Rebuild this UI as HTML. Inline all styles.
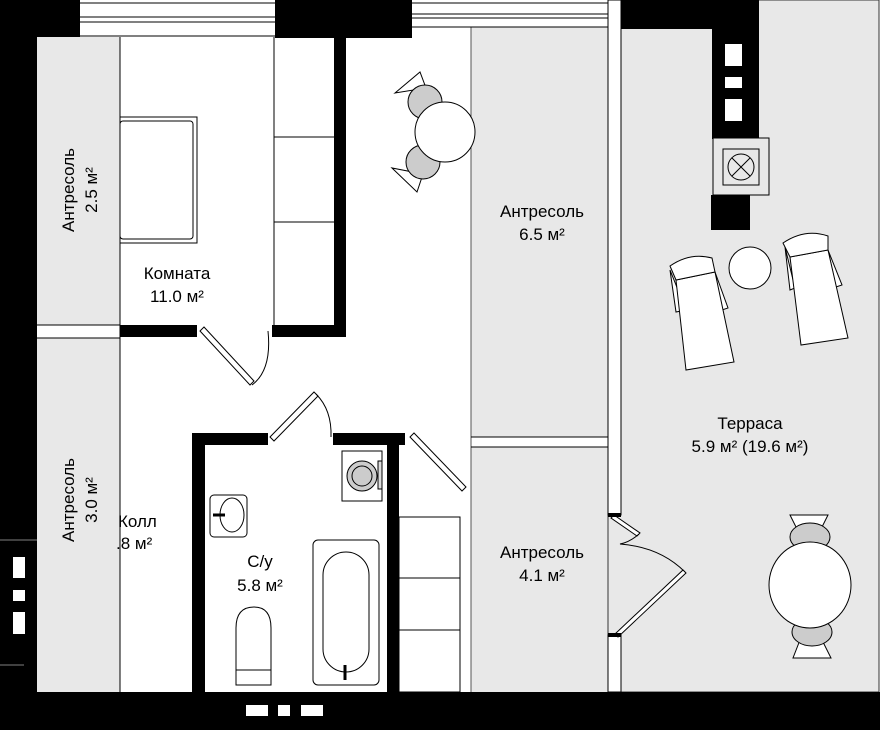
<!DOCTYPE html>
<html><head><meta charset="utf-8"><style>
body{margin:0;background:#fff}
svg{display:block}
text{font-family:"Liberation Sans",sans-serif;font-size:17px;fill:#000}
</style></head><body>
<svg width="880" height="730" viewBox="0 0 880 730" xmlns="http://www.w3.org/2000/svg">
<rect width="880" height="730" fill="#fff"/>
<rect x="37" y="37" width="83" height="288" fill="#e8e8e8"/>
<rect x="37" y="338" width="83" height="354" fill="#e8e8e8"/>
<rect x="471" y="27" width="137" height="410" fill="#e8e8e8"/>
<rect x="471" y="447" width="137" height="245" fill="#e8e8e8"/>
<rect x="608" y="0" width="271" height="692" fill="#e8e8e8" stroke="#333" stroke-width="1"/>
<line x1="120" y1="37" x2="120" y2="692" stroke="#000"/>
<line x1="471" y1="27" x2="471" y2="692" stroke="#555"/>
<line x1="37" y1="325" x2="120" y2="325" stroke="#000"/>
<line x1="37" y1="338" x2="120" y2="338" stroke="#000"/>
<line x1="471" y1="437" x2="608" y2="437" stroke="#000"/>
<line x1="471" y1="447" x2="608" y2="447" stroke="#000"/>
<g stroke="#000" fill="none">
<line x1="80" y1="3" x2="275" y2="3"/><line x1="80" y1="17" x2="275" y2="17"/><line x1="80" y1="22" x2="275" y2="22"/><line x1="80" y1="36" x2="275" y2="36"/>
<line x1="412" y1="3" x2="608" y2="3"/><line x1="412" y1="14" x2="608" y2="14"/><line x1="412" y1="18" x2="608" y2="18"/><line x1="412" y1="27" x2="608" y2="27"/>
</g>
<g fill="#000">
<rect x="0" y="0" width="80" height="37"/>
<rect x="0" y="0" width="37" height="692"/>
<rect x="275" y="0" width="137" height="38"/>
<rect x="334" y="37" width="12" height="300"/>
<rect x="120" y="325" width="77" height="12"/>
<rect x="272" y="325" width="74" height="12"/>
<rect x="192" y="433" width="76" height="12"/>
<rect x="333" y="433" width="72" height="12"/>
<rect x="192" y="433" width="13" height="259"/>
<rect x="387" y="433" width="12" height="259"/>
<rect x="0" y="692" width="880" height="38"/>
<rect x="621" y="0" width="138" height="29"/>
<rect x="712" y="29" width="47" height="110"/>
<rect x="711" y="195" width="39" height="35"/>
</g>
<g fill="#fff"><rect x="13" y="557" width="12" height="21"/><rect x="13" y="590" width="12" height="11"/><rect x="13" y="612" width="12" height="22"/>
<rect x="246" y="705" width="22" height="11"/><rect x="278" y="705" width="12" height="11"/><rect x="301" y="705" width="22" height="11"/>
<rect x="725" y="44" width="17" height="22"/><rect x="725" y="77" width="17" height="11"/><rect x="725" y="99" width="17" height="22"/></g>
<line x1="0" y1="540" x2="37" y2="540" stroke="#fff" stroke-width=".6"/>
<line x1="0" y1="665" x2="24" y2="665" stroke="#fff" stroke-width=".6"/>
<rect x="608" y="0" width="13" height="515" fill="#fff" stroke="#000"/>
<rect x="608" y="635" width="13" height="57" fill="#fff" stroke="#000"/>
<rect x="713" y="138" width="56" height="57" fill="#e8e8e8" stroke="#000"/>
<rect x="723" y="149" width="36" height="36" fill="#e8e8e8" stroke="#000"/>
<circle cx="741" cy="167" r="13" fill="none" stroke="#000"/>
<path d="M732 158L750 176M750 158L732 176" stroke="#000"/>
<g stroke="#000" fill="none">
<line x1="274" y1="37" x2="274" y2="325"/><line x1="274" y1="137" x2="334" y2="137"/><line x1="274" y1="222" x2="334" y2="222"/>
<rect x="399" y="517" width="61" height="175"/><line x1="399" y1="578" x2="460" y2="578"/><line x1="399" y1="630" x2="460" y2="630"/>
<rect x="120" y="117" width="77" height="126"/><rect x="120" y="121" width="73" height="118" rx="3"/>
</g>
<g stroke="#000">
<path d="M395 93L420 72L426 88Z" fill="#fff"/><path d="M392 168L417 192L423 174Z" fill="#fff"/>
<circle cx="425" cy="102" r="17" fill="#ccc"/><circle cx="423" cy="162" r="17" fill="#ccc"/>
<circle cx="445" cy="132" r="30" fill="#fff"/>
</g>
<g stroke="#000" fill="#fff" stroke-width="1">
<path d="M200 331L250 385L254 381L204 327Z"/>
<path d="M268 331Q272 370 252 385" fill="none"/>
<path d="M270 437L314 392L318 396L274 441Z"/>
<path d="M316 394Q332 410 331 437" fill="none"/>
<path d="M410 437L462 491L466 487L414 433Z"/>
<path d="M614 515L640 533L637 536L611 518Z"/>
<path d="M639 534Q630 542 620 544Q660 547 685 572" fill="none"/>
<path d="M615 634L683 570L686 573L618 637Z"/>
</g>
<rect x="608" y="513" width="13" height="4" fill="#000"/><rect x="608" y="633" width="13" height="4" fill="#000"/>
<g stroke="#000" fill="#fff">
<rect x="342" y="451" width="40" height="50"/><rect x="378" y="461" width="4" height="28" fill="#ddd"/>
<circle cx="362" cy="476" r="15" fill="#ccc"/><circle cx="362" cy="476" r="10" fill="#ccc"/>
<rect x="210" y="495" width="37" height="42" rx="4"/><ellipse cx="232" cy="515" rx="12" ry="17"/>
<line x1="213" y1="515" x2="225" y2="515" stroke-width="3"/>
<rect x="313" y="540" width="66" height="145" rx="5"/><rect x="323" y="552" width="46" height="120" rx="23"/>
<line x1="345" y1="665" x2="345" y2="680" stroke-width="3"/>
<path d="M236 670L236 628Q236 607 254 607Q271 607 271 628L271 670Z"/>
<rect x="236" y="670" width="35" height="15"/>
</g>
<g stroke="#000" fill="#fff">
<path d="M670 270L676 312L686 310Z"/><path d="M715 272L728 308L722 310Z"/>
<path d="M676 280L715 272L734 362L686 370Z"/>
<path d="M670 266Q690 252 712 258L715 272L676 280Z"/>
<path d="M785 247L790 290L795 288Z"/><path d="M828 250L842 285L836 287Z"/>
<path d="M790 257L828 250L848 338L801 345Z"/>
<path d="M783 243Q805 228 828 236L828 250L790 257Z"/>
<circle cx="750" cy="268" r="21"/>
<path d="M790 515L828 515L818 535L800 535Z"/><path d="M793 658L831 658L822 640L800 640Z"/>
<ellipse cx="810" cy="537" rx="20" ry="14" fill="#ccc"/><ellipse cx="812" cy="632" rx="20" ry="14" fill="#ccc"/>
<ellipse cx="810" cy="585" rx="41" ry="43"/>
</g>
<text x="177" y="279" text-anchor="middle">Комната</text>
<text x="177" y="302" text-anchor="middle">11.0 м²</text>
<text transform="translate(74,190) rotate(-90)" text-anchor="middle">Антресоль</text>
<text transform="translate(97,190) rotate(-90)" text-anchor="middle">2.5 м²</text>
<text transform="translate(74,500) rotate(-90)" text-anchor="middle">Антресоль</text>
<text transform="translate(97,500) rotate(-90)" text-anchor="middle">3.0 м²</text>
<text x="118" y="527">Колл</text>
<text x="116" y="549">.8 м²</text>
<text x="260" y="567" text-anchor="middle">С/у</text>
<text x="260" y="591" text-anchor="middle">5.8 м²</text>
<text x="542" y="217" text-anchor="middle">Антресоль</text>
<text x="542" y="240" text-anchor="middle">6.5 м²</text>
<text x="542" y="558" text-anchor="middle">Антресоль</text>
<text x="542" y="581" text-anchor="middle">4.1 м²</text>
<text x="750" y="429" text-anchor="middle">Терраса</text>
<text x="750" y="452" text-anchor="middle">5.9 м² (19.6 м²)</text>
</svg>
</body></html>
